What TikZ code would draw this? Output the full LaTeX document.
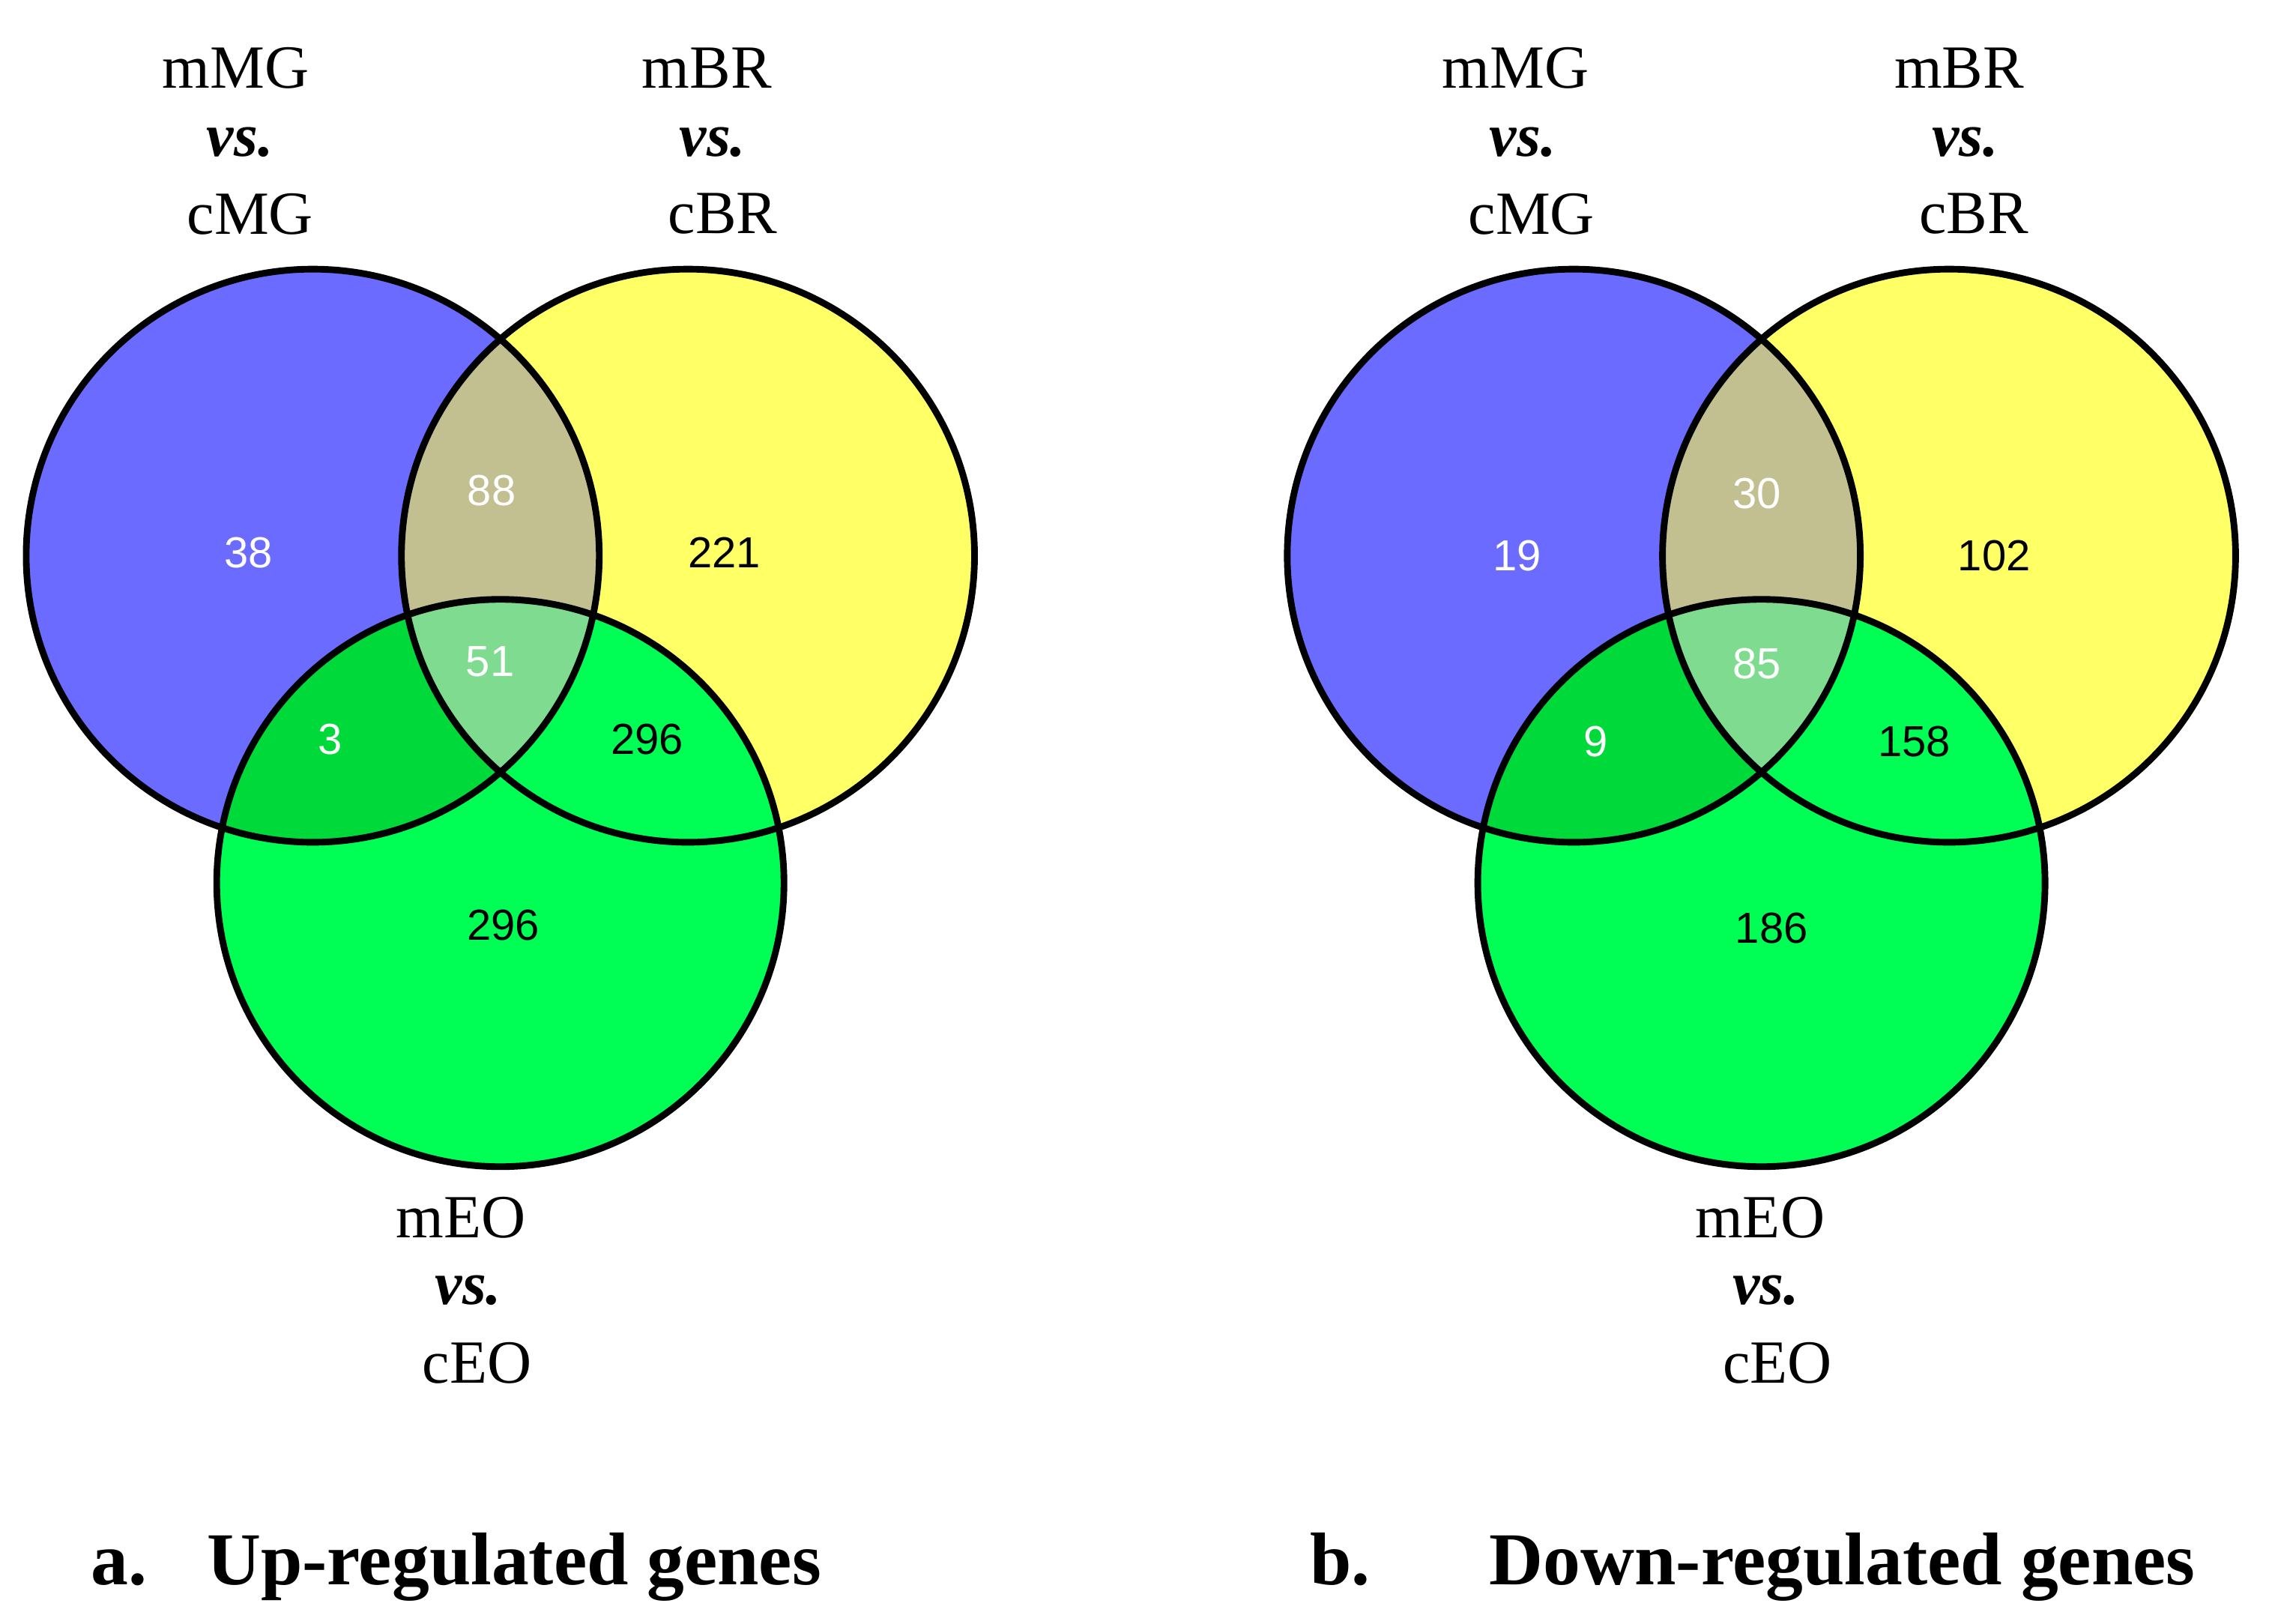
\documentclass[tikz,border=0pt]{standalone}
\usepackage{fontspec}
\setmainfont{Liberation Serif}
\newfontfamily\nums{Liberation Sans}
\definecolor{cB}{HTML}{6B6BFF}
\definecolor{cY}{HTML}{FFFF66}
\definecolor{cG}{HTML}{00FF55}
\definecolor{cBY}{HTML}{C2BF91}
\definecolor{cBG}{HTML}{00D93A}
\definecolor{cYG}{HTML}{A8FF3A}
\definecolor{cBYG}{HTML}{7FDB8F}
\tikzset{
  lab/.style={font=\fontsize{12}{14}\selectfont, inner sep=0pt},
  vs/.style={font=\fontsize{12}{14}\selectfont\bfseries\itshape, inner sep=0pt},
  num/.style={font=\nums\fontsize{8.5}{10}\selectfont, inner sep=0pt},
  ttl/.style={font=\fontsize{14.6}{17}\selectfont\bfseries, inner sep=0pt, anchor=west},
  ring/.style={line width=1.3pt, draw=black}
}
\newcommand\myvenn[1]{%
\begin{scope}[xshift=#1]
  \fill[cB] (2.15,-3.82) circle (1.97);
  \fill[cY] (4.73,-3.82) circle (1.97);
  \fill[cG] (3.44,-6.07) circle (1.95);
  \begin{scope}\clip (2.15,-3.82) circle (1.97);
    \fill[cBY] (4.73,-3.82) circle (1.97);
    \fill[cBG] (3.44,-6.07) circle (1.95);
    \clip (4.73,-3.82) circle (1.97);
    \fill[cBYG] (3.44,-6.07) circle (1.95);
  \end{scope}
  \begin{scope}\clip (4.73,-3.82) circle (1.97);
    \clip (3.44,-6.07) circle (1.95);
    \fill[cYG] (2.15,-3.82) circle (1.97);
    \clip (2.15,-3.82) circle (1.97);
    \fill[cBYG] (2.15,-3.82) circle (1.97);
  \end{scope}
  \draw[ring] (2.15,-3.82) circle (1.97);
  \draw[ring] (4.73,-3.82) circle (1.97);
  \draw[ring] (3.44,-6.07) circle (1.95);
\end{scope}}
\begin{document}
\begin{tikzpicture}
\useasboundingbox (0,0) rectangle (15.6,-11.16);
\fill[white] (0,0) rectangle (15.6,-11.16);
\myvenn{0cm}
\myvenn{8.67cm}
% left numbers
\node[num,white] (a1) at (1.71,-3.80) {38};
\node[num,white] (a2) at (3.38,-3.37) {88};
\node[num] (a3) at (4.98,-3.80) {221};
\node[num,white] (a4) at (3.37,-4.55) {51};
\node[num,white] (a5) at (2.27,-5.08) {3};
\node[num] (a6) at (4.45,-5.08) {296};
\node[num] (a7) at (3.46,-6.36) {296};
% right numbers
\node[num,white] (b1) at (10.43,-3.82) {19};
\node[num,white] (b2) at (12.08,-3.39) {30};
\node[num] (b3) at (13.71,-3.82) {102};
\node[num,white] (b4) at (12.08,-4.56) {85};
\node[num,white] (b5) at (10.97,-5.10) {9};
\node[num] (b6) at (13.16,-5.10) {158};
\node[num] (b7) at (12.18,-6.38) {186};
% left labels
\node[lab] (l1) at (1.62,-0.47) {mMG};
\node[vs] (l2) at (1.65,-0.98) {vs.};
\node[lab] (l3) at (1.72,-1.47) {cMG};
\node[lab] (l4) at (4.86,-0.47) {mBR};
\node[vs] (l5) at (4.90,-0.98) {vs.};
\node[lab] (l6) at (4.97,-1.47) {cBR};
\node[lab] (l7) at (3.17,-8.37) {mEO};
\node[vs] (l8) at (3.22,-8.87) {vs.};
\node[lab] (l9) at (3.28,-9.37) {cEO};
% right labels
\node[lab] (r1) at (10.42,-0.47) {mMG};
\node[vs] (r2) at (10.47,-0.98) {vs.};
\node[lab] (r3) at (10.53,-1.47) {cMG};
\node[lab] (r4) at (13.47,-0.47) {mBR};
\node[vs] (r5) at (13.51,-0.98) {vs.};
\node[lab] (r6) at (13.57,-1.47) {cBR};
\node[lab] (r7) at (12.10,-8.37) {mEO};
\node[vs] (r8) at (12.14,-8.87) {vs.};
\node[lab] (r9) at (12.22,-9.37) {cEO};
% titles
\node[ttl] (t1) at (0.62,-10.77) {a.\hspace{0.8em}Up-regulated genes};
\node[ttl] (t2) at (9.00,-10.77) {b.\hspace{1.6em}Down-regulated genes};
\end{tikzpicture}
\end{document}
